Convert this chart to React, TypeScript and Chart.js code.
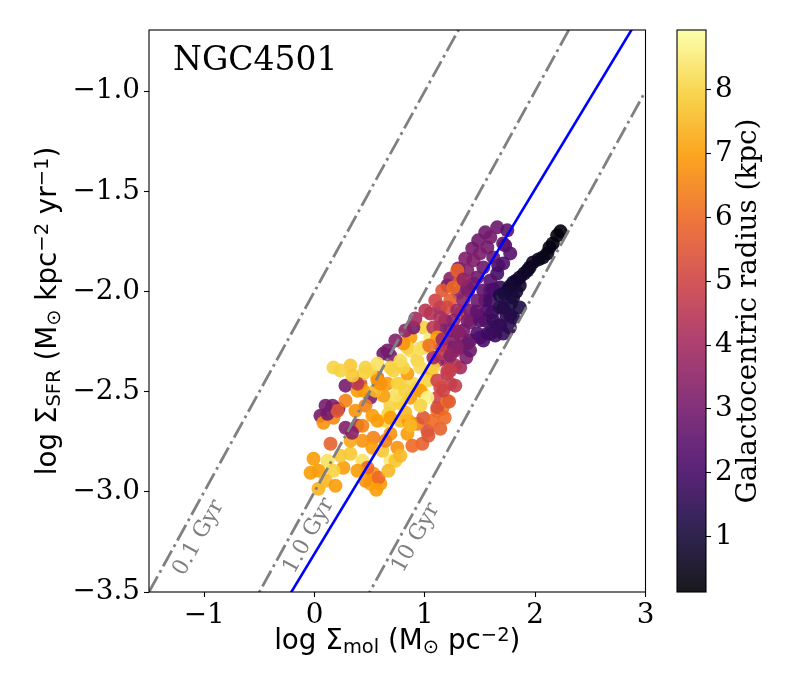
import { useEffect, useRef } from 'react';
import { Chart, registerables } from 'chart.js';
Chart.register(...registerables);

// ---------------- data (log units) ----------------
// inner, dark region (small galactocentric radius)
const innerMol = [2.23, 2.20, 2.16, 2.13, 2.11, 2.07, 2.03, 1.98, 1.95, 1.93, 1.90, 1.86, 1.83, 1.80, 1.77, 1.75, 1.72, 1.68, 1.86, 1.83, 1.80, 1.86, 1.78, 1.71, 1.80, 1.74, 1.77, 1.66, 1.62, 1.57];
const innerSfr = [-1.70, -1.72, -1.76, -1.78, -1.81, -1.83, -1.84, -1.855, -1.88, -1.895, -1.91, -1.93, -1.945, -1.955, -1.975, -1.995, -2.01, -2.02, -1.97, -2.00, -2.03, -2.08, -2.06, -2.08, -2.13, -2.12, -2.18, -2.17, -2.20, -2.21];
const innerR = [0.22, 0.3, 0.28, 0.4, 0.38, 0.5, 0.47, 0.6, 0.58, 0.66, 0.72, 0.7, 0.85, 0.8, 0.95, 0.9, 1.05, 1.1, 0.78, 0.92, 1.0, 1.15, 1.08, 1.25, 1.22, 1.35, 1.45, 1.6, 1.7, 1.8];

// intermediate purple band
const bandMol = [1.656, 1.747, 1.593, 1.71, 1.566, 1.774, 1.50, 1.62, 1.44, 1.71, 1.53, 1.385, 1.656, 1.475, 1.593, 1.321, 1.294, 1.385, 1.258, 1.53, 1.683, 1.231, 1.348, 1.475, 1.593, 1.204, 1.294, 1.41, 1.566, 1.683, 1.14, 1.258, 1.385, 1.50, 1.62, 1.077, 1.231, 1.348, 1.475, 1.593, 1.71, 1.113, 1.258, 1.385, 1.53, 1.167, 1.294, 1.231, 1.41, 1.44, 1.62, 1.35, 1.47, 1.30, 1.16, 1.04];
const bandSfr = [-1.68, -1.695, -1.73, -1.76, -1.78, -1.81, -1.81, -1.83, -1.845, -1.86, -1.88, -1.895, -1.91, -1.93, -1.945, -1.945, -1.895, -1.98, -1.98, -1.995, -1.98, -2.045, -2.045, -2.045, -2.045, -2.08, -2.095, -2.095, -2.095, -2.08, -2.13, -2.145, -2.145, -2.145, -2.145, -2.18, -2.195, -2.195, -2.21, -2.21, -2.21, -2.23, -2.245, -2.26, -2.245, -2.31, -2.28, -2.32, -2.295, -1.96, -1.99, -1.94, -2.10, -2.20, -2.24, -2.27];
const bandR = [2.8, 2.5, 3.0, 2.6, 3.0, 2.3, 3.1, 2.7, 3.2, 2.2, 2.8, 3.3, 2.0, 2.9, 2.3, 5.5, 5.8, 3.3, 6.0, 2.5, 1.6, 5.7, 3.5, 2.8, 1.9, 5.2, 3.8, 3.0, 2.0, 1.4, 4.2, 3.6, 3.1, 2.4, 1.8, 4.5, 3.3, 3.0, 2.2, 1.9, 1.6, 7.0, 3.2, 2.8, 2.1, 4.5, 3.3, 3.5, 2.8, 3.0, 2.1, 3.6, 2.6, 3.4, 3.9, 6.2];

// bridge between band and outer disc
const bridgeMol = [1.204, 1.303, 1.394, 1.321, 1.14, 1.05, 1.186, 1.412, 1.484, 1.548, 1.548, 1.502, 1.412, 1.321, 1.276, 1.376, 1.276, 1.14, 1.077, 0.959, 0.805, 0.688, 0.57, 0.597, 1.231, 1.167, 0.661, 0.733, 0.824, 0.914, 1.005, 1.095, 1.158, 1.231, 1.303, 1.367, 1.43, 1.484, 1.548, 1.728, 1.665, 1.593, 1.638, 1.683, 1.611, 1.774];
const bridgeSfr = [-1.97, -2.005, -1.995, -2.11, -2.08, -2.11, -2.145, -2.155, -2.12, -2.045, -2.145, -2.23, -2.245, -2.22, -2.295, -2.33, -2.37, -2.27, -2.33, -2.285, -2.26, -2.38, -2.36, -2.46, -2.395, -2.495, -2.295, -2.245, -2.195, -2.135, -2.095, -2.045, -1.995, -1.935, -1.885, -1.835, -1.785, -1.745, -1.705, -1.77, -1.87, -1.995, -2.22, -2.17, -2.105, -2.12];
const bridgeR = [3.0, 3.2, 2.6, 5.8, 4.0, 4.3, 3.5, 2.9, 2.2, 1.9, 1.7, 1.9, 2.6, 3.6, 4.2, 3.2, 4.4, 4.8, 4.0, 8.3, 6.8, 8.0, 8.3, 6.8, 4.8, 5.0, 3.0, 3.3, 3.5, 4.0, 4.5, 5.0, 5.5, 3.4, 3.0, 3.2, 3.0, 2.9, 2.9, 2.2, 2.0, 1.8, 1.8, 1.5, 1.7, 1.3];

// outer disc (yellow / orange)
const outerMol = [0.172, 0.326, 0.462, 0.624, 0.688, 0.778, 0.869, 0.986, 1.05, 0.281, 0.389, 0.507, 0.054, 0.172, 0.081, 0.281, 0.389, 0.688, 0.643, 0.145, -0.009, -0.036, 0.036, 0.118, 0.262, 0.326, 0.434, 0.534, 0.597, 0.507, 0.48, 0.688, 0.751, 0.977, 1.023, 0.842, 0.688, 0.534, 0.57, 0.778, 0.932, 0.986, 0.778, 0.869, 0.986, 1.113, 1.113, 1.158, 0.778, 0.896, 1.023, 1.113, 1.204, 1.231, 0.661, 0.57, 0.507, 0.416, 0.443, 0.715, 0.842, 0.932, 1.113, 1.204, 1.231, 1.321, 1.14, 0.172, 0.434, 0.525, 0.579, 0.733, 0.851, 0.67, 0.217, 0.163, 0.986, 1.05, 0.805, 0.959, 1.077, 0.869, 0.896, 1.14, 1.258, 1.321, 1.204, 0.932, 0.751, 0.57, 0.443, 0.389, 0.118, 0.208, 0.778, 0.959, 1.023, 1.14, 1.113, 1.204, 0.688, 0.842, 0.778];
const outerSfr = [-2.38, -2.37, -2.38, -2.31, -2.32, -2.37, -2.295, -2.28, -2.395, -2.47, -2.495, -2.53, -2.62, -2.63, -2.655, -2.68, -2.67, -2.57, -2.645, -2.76, -2.835, -2.905, -2.985, -2.845, -2.88, -2.81, -2.845, -2.91, -2.96, -2.96, -2.88, -2.845, -2.78, -2.76, -2.695, -2.71, -2.71, -2.73, -2.645, -2.645, -2.66, -2.63, -2.56, -2.53, -2.51, -2.53, -2.595, -2.585, -2.46, -2.46, -2.445, -2.445, -2.41, -2.46, -2.46, -2.43, -2.395, -2.46, -2.41, -2.395, -2.41, -2.345, -2.345, -2.345, -2.28, -2.28, -2.685, -2.895, -2.745, -2.78, -2.93, -2.845, -2.645, -2.61, -2.585, -2.57, -2.18, -2.23, -2.38, -2.38, -2.38, -2.23, -2.18, -2.18, -2.295, -2.38, -2.395, -2.48, -2.46, -2.445, -2.495, -2.46, -2.61, -2.595, -2.545, -2.495, -2.53, -2.48, -2.58, -2.545, -2.63, -2.28, -2.345];
const outerR = [8.0, 7.8, 8.0, 2.9, 3.1, 8.0, 8.2, 7.6, 7.0, 3.0, 7.0, 3.2, 3.0, 6.6, 6.8, 3.3, 3.8, 8.0, 8.0, 5.8, 7.0, 7.0, 7.4, 8.3, 7.0, 7.8, 8.3, 6.8, 7.0, 7.2, 6.0, 8.5, 6.8, 5.8, 5.3, 7.0, 6.8, 6.5, 7.0, 7.5, 6.5, 5.5, 8.0, 7.0, 8.5, 5.0, 6.5, 6.2, 8.0, 8.2, 8.0, 5.0, 4.5, 4.8, 7.0, 6.0, 8.0, 5.5, 8.0, 8.0, 7.0, 8.0, 4.0, 3.5, 3.3, 3.2, 5.8, 8.0, 6.8, 7.0, 6.0, 7.8, 7.0, 8.0, 3.0, 3.2, 8.0, 8.5, 8.0, 8.2, 8.0, 7.0, 3.0, 3.0, 3.0, 4.0, 5.0, 8.0, 8.0, 7.0, 7.0, 4.5, 3.0, 5.5, 8.0, 7.0, 8.7, 5.2, 5.3, 6.5, 7.0, 8.0, 8.2];

// outer disc, lower part
const lowMol = [0.281, 0.371, 0.462, 0.525, 0.434, 0.326, 0.235, 0.389, 0.462, 0.67, 0.615, 0.643, 0.887, 0.869, 1.032, 1.068, 1.18, 1.22, 1.276, 0.959, 0.824, 0.733, 0.824, 0.624, 0.552, 0.344, 0.235, 0.036, 0.1, 0.19, 0.56, 0.778, 0.34, 0.1];
const lowSfr = [-2.545, -2.595, -2.57, -2.62, -2.67, -2.745, -2.82, -2.895, -2.945, -2.895, -2.795, -2.745, -2.77, -2.67, -2.72, -2.645, -2.63, -2.55, -2.47, -2.57, -2.605, -2.52, -2.495, -2.52, -2.495, -2.42, -2.395, -2.895, -2.945, -2.97, -2.99, -2.82, -2.705, -2.57];
const lowR = [6.5, 6.8, 6.5, 7.0, 6.5, 7.2, 7.8, 7.0, 6.8, 7.5, 7.8, 6.5, 6.0, 7.5, 5.5, 6.0, 6.0, 5.6, 4.8, 8.0, 7.5, 8.3, 8.0, 7.0, 7.5, 7.8, 8.0, 7.0, 7.5, 7.0, 7.0, 7.5, 3.4, 3.0];

const logSigmaMol = [...outerMol, ...lowMol, ...bridgeMol, ...bandMol, ...innerMol];
const logSigmaSFR = [...outerSfr, ...lowSfr, ...bridgeSfr, ...bandSfr, ...innerSfr];
const radiusKpc = [...outerR, ...lowR, ...bridgeR, ...bandR, ...innerR];

const xTicks = [-1, 0, 1, 2, 3];
const yTicks = [-3.5, -3.0, -2.5, -2.0, -1.5, -1.0];
const cbTicks = [1, 2, 3, 4, 5, 6, 7, 8];
const xRange = [-1.5, 3];
const yRange = [-3.5, -0.695];
const rRange = [0.13, 8.94];

const depletionGyr = [0.1, 1.0, 10];
const depletionLabels = ['0.1 Gyr', '1.0 Gyr', '10 Gyr'];
const labelAtMol = [-1.05, -0.05, 0.92];
const labelAtSfr = [-3.23, -3.22, -3.23];
const fitSlope = 0.91;
const fitIntercept = -3.309;

// ---------------- colormap ----------------
const INFERNO = ['#000004', '#1b0c41', '#4a0c6b', '#781c6d', '#a52c60', '#cf4446', '#ed6925', '#fb9b06', '#f7d13d', '#fcffa4'];
const INF_RGB = INFERNO.map((h) => [parseInt(h.slice(1, 3), 16), parseInt(h.slice(3, 5), 16), parseInt(h.slice(5, 7), 16)]);
function inferno(t: number, alpha: number): string {
  const tt = Math.max(0, Math.min(1, t));
  const s = tt * (INF_RGB.length - 1);
  const i = Math.min(Math.floor(s), INF_RGB.length - 2);
  const f = s - i;
  const a = INF_RGB[i];
  const b = INF_RGB[i + 1];
  const c = [0, 1, 2].map((k) => Math.round(a[k] + (b[k] - a[k]) * f));
  return `rgba(${c[0]},${c[1]},${c[2]},${alpha})`;
}
const norm = (r: number) => (r - rRange[0]) / (rRange[1] - rRange[0]);
const ALPHA = 0.9;

const minus = (s: string) => s.replace('-', '\u2212');

type Part = { t: string; k: 'n' | 'sub' | 'sup' };
function drawRich(ctx: CanvasRenderingContext2D, parts: Part[], family: string, size: number, cx: number, baseY: number) {
  const fontFor = (k: string) => `${k === 'n' ? size : size * 0.7}px ${family}`;
  ctx.textAlign = 'left';
  ctx.textBaseline = 'alphabetic';
  const widths = parts.map((p) => {
    ctx.font = fontFor(p.k);
    return ctx.measureText(p.t).width;
  });
  const total = widths.reduce((a, b) => a + b, 0);
  let x = cx - total / 2;
  parts.forEach((p, i) => {
    ctx.font = fontFor(p.k);
    const dy = p.k === 'sub' ? size * 0.16 : p.k === 'sup' ? -size * 0.3 : 0;
    ctx.fillText(p.t, x, baseY + dy);
    x += widths[i];
  });
}

const xTitle: Part[] = [
  { t: 'log \u03A3', k: 'n' }, { t: 'mol', k: 'sub' }, { t: ' (M', k: 'n' }, { t: '\u2299', k: 'sub' },
  { t: ' pc', k: 'n' }, { t: '\u22122', k: 'sup' }, { t: ')', k: 'n' },
];
const yTitle: Part[] = [
  { t: 'log \u03A3', k: 'n' }, { t: 'SFR', k: 'sub' }, { t: ' (M', k: 'n' }, { t: '\u2299', k: 'sub' },
  { t: ' kpc', k: 'n' }, { t: '\u22122', k: 'sup' }, { t: ' yr', k: 'n' }, { t: '\u22121', k: 'sup' }, { t: ')', k: 'n' },
];

const SERIF = 'DejaVu Serif';
const SANS = 'DejaVu Sans';
const FS = 27.8;

export default function App() {
  const mainRef = useRef<HTMLCanvasElement>(null);
  const cbRef = useRef<HTMLCanvasElement>(null);

  useEffect(() => {
    const lineX = [xRange[0], xRange[1]];
    const deplDatasets = depletionGyr.map((t) => ({
      type: 'line' as const,
      data: lineX.map((x) => ({ x, y: x + 6 - Math.log10(t * 1e9) })),
      borderColor: 'gray',
      borderWidth: 2.8,
      borderDash: [17.8, 4.4, 2.8, 4.4],
      pointRadius: 0,
      fill: false,
      clip: 0,
      order: 0,
    }));
    const fitDataset = {
      type: 'line' as const,
      data: lineX.map((x) => ({ x, y: fitSlope * x + fitIntercept })),
      borderColor: 'blue',
      borderWidth: 2.6,
      pointRadius: 0,
      fill: false,
      clip: 0,
      order: 0,
    };
    const scatter = {
      type: 'scatter' as const,
      data: logSigmaMol.map((x, i) => ({ x, y: logSigmaSFR[i] })),
      pointBackgroundColor: radiusKpc.map((r) => inferno(norm(r), ALPHA)),
      pointBorderWidth: 0,
      pointBorderColor: 'rgba(0,0,0,0)',
      pointRadius: 7,
      order: 1,
    };

    const mainPlugin = {
      id: 'mainDecor',
      afterDraw(chart: any) {
        const ctx: CanvasRenderingContext2D = chart.ctx;
        const a = chart.chartArea;
        const xs = chart.scales.x;
        const ys = chart.scales.y;
        ctx.save();
        ctx.strokeStyle = '#000';
        ctx.lineWidth = 1.1;
        ctx.strokeRect(a.left, a.top, a.right - a.left, a.bottom - a.top);
        const ang = Math.atan2(ys.getPixelForValue(-2) - ys.getPixelForValue(-3), xs.getPixelForValue(0) - xs.getPixelForValue(-1));
        ctx.fillStyle = 'gray';
        ctx.font = `22px ${SERIF}`;
        ctx.textAlign = 'center';
        ctx.textBaseline = 'middle';
        depletionLabels.forEach((lab, i) => {
          ctx.save();
          ctx.translate(xs.getPixelForValue(labelAtMol[i]), ys.getPixelForValue(labelAtSfr[i]));
          ctx.rotate(ang);
          ctx.fillText(lab, 0, 0);
          ctx.restore();
        });
        ctx.fillStyle = '#000';
        ctx.font = `33px ${SERIF}`;
        ctx.textAlign = 'left';
        ctx.textBaseline = 'alphabetic';
        ctx.fillText('NGC4501', a.left + 24, a.top + 40);
        drawRich(ctx, xTitle, SANS, FS, (a.left + a.right) / 2, 649);
        ctx.save();
        ctx.translate(56, (a.top + a.bottom) / 2);
        ctx.rotate(-Math.PI / 2);
        drawRich(ctx, yTitle, SANS, FS, 0, 0);
        ctx.restore();
        ctx.restore();
      },
    };

    const main = new Chart(mainRef.current!, {
      type: 'scatter',
      data: { datasets: [...deplDatasets, fitDataset, scatter] as any },
      options: {
        animation: false,
        responsive: false,
        maintainAspectRatio: false,
        layout: { padding: { left: 0, right: 154.5, top: 30, bottom: 0 } },
        plugins: { legend: { display: false }, tooltip: { enabled: false } },
        scales: {
          x: {
            type: 'linear',
            min: xRange[0],
            max: xRange[1],
            afterBuildTicks: (s: any) => { s.ticks = xTicks.map((v) => ({ value: v })); },
            afterFit: (s: any) => { s.height = 108; },
            grid: { drawOnChartArea: false, drawTicks: true, tickLength: 5, tickColor: '#000', tickWidth: 1.1 },
            border: { display: false },
            ticks: { color: '#000', font: { family: SERIF, size: FS }, padding: 2, maxRotation: 0, autoSkip: false, callback: (v: any) => minus(String(v)) },
          },
          y: {
            type: 'linear',
            min: yRange[0],
            max: yRange[1],
            afterBuildTicks: (s: any) => { s.ticks = yTicks.map((v) => ({ value: v })); },
            afterFit: (s: any) => { s.width = 149; },
            grid: { drawOnChartArea: false, drawTicks: true, tickLength: 5, tickColor: '#000', tickWidth: 1.1 },
            border: { display: false },
            ticks: { color: '#000', font: { family: SERIF, size: FS }, padding: 4, autoSkip: false, callback: (v: any) => minus(Number(v).toFixed(1)) },
          },
        },
      },
      plugins: [mainPlugin],
    });

    const cbPlugin = {
      id: 'cbDecor',
      beforeDatasetsDraw(chart: any) {
        const ctx: CanvasRenderingContext2D = chart.ctx;
        const a = chart.chartArea;
        const g = ctx.createLinearGradient(0, a.bottom, 0, a.top);
        const n = 60;
        for (let i = 0; i <= n; i++) g.addColorStop(i / n, inferno(i / n, ALPHA));
        ctx.save();
        ctx.fillStyle = g;
        ctx.fillRect(a.left, a.top, a.right - a.left, a.bottom - a.top);
        ctx.restore();
      },
      afterDraw(chart: any) {
        const ctx: CanvasRenderingContext2D = chart.ctx;
        const a = chart.chartArea;
        ctx.save();
        ctx.strokeStyle = '#000';
        ctx.lineWidth = 1.1;
        ctx.strokeRect(a.left, a.top, a.right - a.left, a.bottom - a.top);
        ctx.fillStyle = '#000';
        ctx.font = `${FS}px ${SERIF}`;
        ctx.textAlign = 'center';
        ctx.textBaseline = 'alphabetic';
        ctx.translate(106, (a.top + a.bottom) / 2);
        ctx.rotate(-Math.PI / 2);
        ctx.fillText('Galactocentric radius (kpc)', 0, 0);
        ctx.restore();
      },
    };

    const cb = new Chart(cbRef.current!, {
      type: 'scatter',
      data: { datasets: [] },
      options: {
        animation: false,
        responsive: false,
        maintainAspectRatio: false,
        layout: { padding: { left: 27, right: 0, top: 30, bottom: 108 } },
        plugins: { legend: { display: false }, tooltip: { enabled: false } },
        scales: {
          x: { type: 'linear', display: false, min: 0, max: 1 },
          y: {
            type: 'linear',
            position: 'right',
            min: rRange[0],
            max: rRange[1],
            afterBuildTicks: (s: any) => { s.ticks = cbTicks.map((v) => ({ value: v })); },
            afterFit: (s: any) => { s.width = 94; },
            grid: { drawOnChartArea: false, drawTicks: true, tickLength: 5, tickColor: '#000', tickWidth: 1.1 },
            border: { display: false },
            ticks: { color: '#000', font: { family: SERIF, size: FS }, padding: 4, autoSkip: false, callback: (v: any) => String(v) },
          },
        },
      },
      plugins: [cbPlugin],
    });

    return () => {
      main.destroy();
      cb.destroy();
    };
  }, []);

  return (
    <div style={{ position: 'absolute', left: 0, top: 0, width: 800, height: 700, background: '#fff' }}>
      <canvas ref={mainRef} width={800} height={700} style={{ position: 'absolute', left: 0, top: 0, width: 800, height: 700 }} />
      <canvas ref={cbRef} width={150} height={700} style={{ position: 'absolute', left: 650, top: 0, width: 150, height: 700 }} />
    </div>
  );
}
